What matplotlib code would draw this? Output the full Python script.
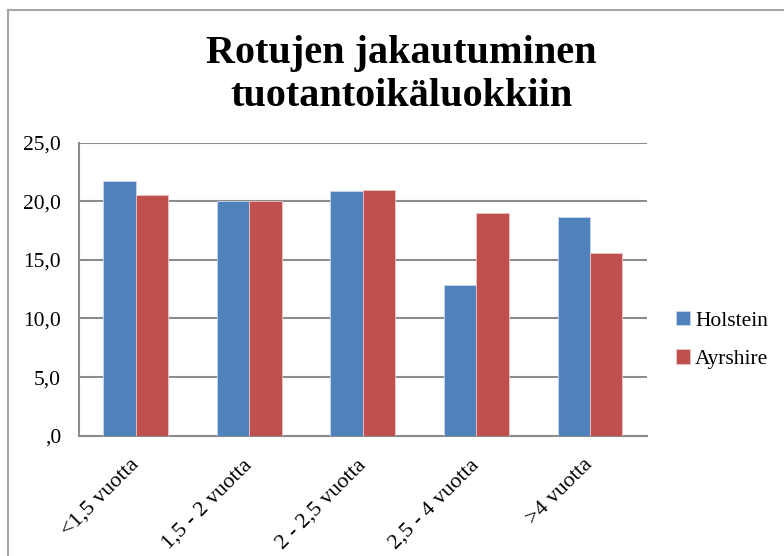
import matplotlib.pyplot as plt
import numpy as np
from matplotlib.lines import Line2D

# Data
categories = ["<1,5 vuotta", "1,5 - 2 vuotta", "2 - 2,5 vuotta", "2,5 - 4 vuotta", ">4 vuotta"]
holstein = [21.7, 20.0, 20.9, 12.9, 18.7]
ayrshire = [20.5, 20.0, 21.0, 19.0, 15.6]
yticks = [0, 5, 10, 15, 20, 25]
ytick_labels = [",0", "5,0", "10,0", "15,0", "20,0", "25,0"]

plt.rcParams['font.family'] = ['Liberation Serif', 'DejaVu Serif']

fig = plt.figure(figsize=(7.84, 5.56), dpi=100)
ax = fig.add_axes([0.1008, 0.2164, 0.7242, 0.5269])

x = np.arange(len(categories))
w = 0.286
ax.bar(x - w / 2, holstein, w, color='#4F81BD', edgecolor='#c9d6ea', linewidth=0.6,
       label='Holstein', zorder=3)
ax.bar(x + w / 2, ayrshire, w, color='#C0504D', edgecolor='#ebc5c4', linewidth=0.6,
       label='Ayrshire', zorder=3)

ax.set_xlim(-0.5, len(categories) - 0.5)
ax.set_ylim(0, 25)
ax.set_yticks(yticks)
ax.set_yticklabels(ytick_labels, fontsize=15.5)
ax.set_xticks(x)
ax.set_xticklabels(categories, fontsize=16, rotation=45, ha='right',
                   va='center', rotation_mode='anchor')
ax.tick_params(axis='y', length=0, pad=13)
ax.tick_params(axis='x', length=0, pad=19)

ax.grid(axis='y', color='#8c8c8c', linewidth=1.5, zorder=0)
for s in ['top', 'right']:
    ax.spines[s].set_visible(False)
for s in ['left', 'bottom']:
    ax.spines[s].set_color('#8c8c8c')
    ax.spines[s].set_linewidth(1.5)

# Otsikko
fig.text(0.512, 0.937, "Rotujen jakautuminen\ntuotantoikäluokkiin", ha='center', va='top',
         fontsize=29, fontweight='bold', linespacing=1.2)

# Selite
fig.legend(loc='center left', bbox_to_anchor=(0.862, 0.3885), frameon=False,
           fontsize=15.5, handlelength=0.65, handleheight=0.65, handletextpad=0.25,
           labelspacing=0.85, borderpad=0, borderaxespad=0)

# Kaavion reunat
fig.add_artist(Line2D([0.0102, 1.0], [0.982, 0.982], color='#a6a6a6', linewidth=1.5))
fig.add_artist(Line2D([0.0102, 0.0102], [0.0, 0.982], color='#a6a6a6', linewidth=1.5))

fig.savefig('out.png', dpi=100)
